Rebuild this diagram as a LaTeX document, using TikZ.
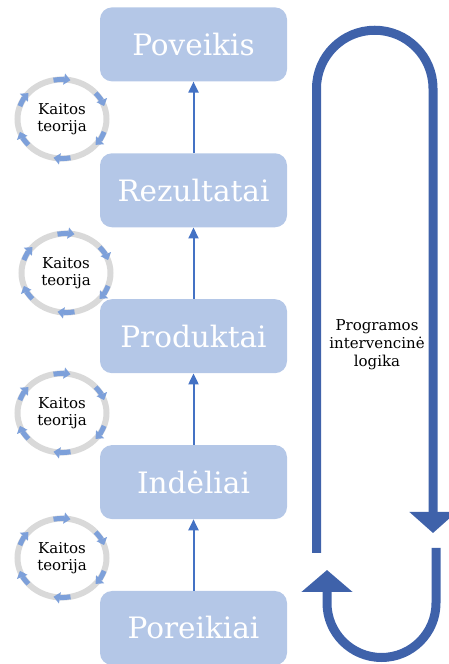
\documentclass[tikz,border=0pt]{standalone}
\usepackage{fontspec}
\setmainfont{DejaVu Serif}
\usetikzlibrary{positioning,arrows.meta,shapes.geometric}

\definecolor{dezute}{RGB}{180,199,231}
\definecolor{linija}{RGB}{68,114,196}
\definecolor{kilpamelyna}{RGB}{63,98,170}
\definecolor{ratopilka}{RGB}{217,217,217}
\definecolor{ratomelyna}{RGB}{125,160,218}

\begin{document}
\begin{tikzpicture}[
    x=1pt, y=1pt,
    node distance=71.5pt,
    % stage boxes of the logic chain
    stage/.style={fill=dezute, rounded corners=12pt, text=white, inner sep=0pt,
                  minimum width=187pt, minimum height=74pt,
                  font=\fontsize{29.5}{31}\selectfont},
    % "theory of change" rings
    ratas/.style={ellipse, draw=ratopilka, line width=6pt, inner sep=0pt, outer sep=0pt,
                  minimum width=89pt, minimum height=79pt, align=center,
                  font=\fontsize{15}{17}\selectfont},
    rodykle/.style={ratomelyna, line width=5pt, -{Triangle[length=6.5pt,width=11pt]}},
    % thin arrows between stages
    jungtis/.style={color=linija, line width=2pt, -{Triangle[length=11pt,width=10pt]}},
    % big loop on the right
    kilpa/.style={draw=kilpamelyna, line width=9pt},
    tekstas/.style={align=center, font=\fontsize{15}{18}\selectfont}
  ]
  \useasboundingbox (0,0) rectangle (449,664);
  \clip (0,0) rectangle (449,664);

  % ===================== stages, bottom to top =====================
  \node[stage] (por) at (193.5,36) {Poreikiai};
  \node[stage, above=of por]  (ind)  {Indėliai};
  \node[stage, above=of ind]  (prod) {Produktai};
  \node[stage, above=of prod] (rez)  {Rezultatai};
  \node[stage, above=of rez]  (pov)  {Poveikis};

  \draw[jungtis] (por)  -- (ind);
  \draw[jungtis] (ind)  -- (prod);
  \draw[jungtis] (prod) -- (rez);
  \draw[jungtis] (rez)  -- (pov);

  % ===================== theory of change rings =====================
  \node[ratas] (k1) at (62,545) {Kaitos\\teorija};
  \node[ratas] (k2) at (66,391) {Kaitos\\teorija};
  \node[ratas] (k3) at (62,251) {Kaitos\\teorija};
  \node[ratas] (k4) at (62,106) {Kaitos\\teorija};

  \foreach \r in {k1,k2,k3,k4}{
    \foreach \a in {90,30,-30,-90,-150,150}
      \draw[rodykle] (\r.center) ++(\a+11:44.5pt and 39.5pt)
        arc[start angle=\a+11, end angle=\a-11, x radius=44.5pt, y radius=39.5pt];
  }

  % ===================== intervention logic loop =====================
  \coordinate (virsK) at (316.5,111);
  \coordinate (virsD) at (433,131);
  \coordinate (apacD) at (436,116);
  \coordinate (apacK) at (327,94);

  \draw[kilpa, -{Triangle[length=21pt,width=46pt]}]
    (virsK) -- (316.5,575.5) arc[start angle=180, end angle=0, radius=58.25] -- (virsD);
  \draw[kilpa, -{Triangle[length=22pt,width=50pt]}]
    (apacD) -- (436,61) arc[start angle=0, end angle=-180, radius=54.5] -- (apacK);

  \node[tekstas] (logika) at (377,319) {Programos\\intervencinė\\logika};

\end{tikzpicture}
\end{document}
